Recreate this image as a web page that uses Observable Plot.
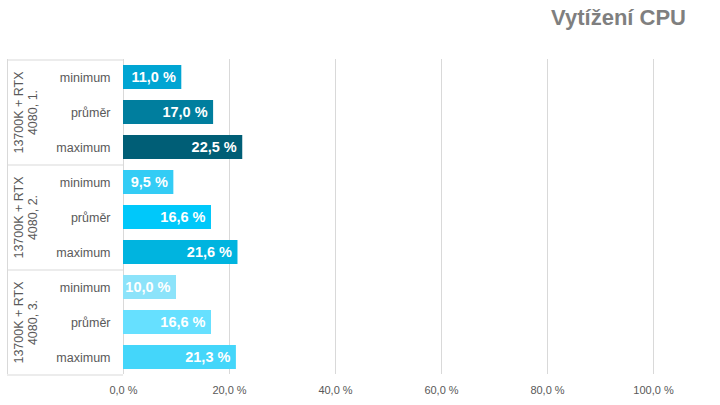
<!DOCTYPE html>
<html><head><meta charset="utf-8">
<script src="https://cdn.jsdelivr.net/npm/d3@7"></script>
<script src="https://cdn.jsdelivr.net/npm/@observablehq/plot@0.6"></script>
<style>
body{margin:0;background:#fff;font-family:"Liberation Sans",Arial,sans-serif;}
#wrap{position:relative;width:720px;height:405px;}
#title{position:absolute;right:34px;top:5px;font-size:22px;font-weight:bold;color:#7f7f7f;}
</style></head>
<body><div id="wrap"><div id="title">Vytížení CPU</div></div>
<script>
const groups = ["13700K + RTX\n4080, 1.", "13700K + RTX\n4080, 2.", "13700K + RTX\n4080, 3."];
const stats = ["minimum", "průměr", "maximum"];
const values = [
  [11.0, 17.0, 22.5],
  [9.5, 16.6, 21.6],
  [10.0, 16.6, 21.3]
];
const colors = ["#00A5D3", "#007E9E", "#005E76", "#33CCF5", "#00C8FA", "#00B4DF", "#8CE3FA", "#66E0FF", "#44D6FA"];
const xTicks = [0, 20, 40, 60, 80, 100];

const rows = [];
groups.forEach((g, gi) => stats.forEach((s, si) => rows.push({key: gi + "|" + s, group: g, stat: s, gi, si, value: values[gi][si]})));
const keys = rows.map(d => d.key);
const fmt = v => d3.format(".1f")(v).replace(".", ",") + " %";
const leftEdge = (7 - 123) / 5.3;

const chart = Plot.plot({
  width: 720, height: 405,
  marginLeft: 123, marginRight: 67, marginTop: 59, marginBottom: 31,
  style: {fontFamily: "'Liberation Sans', Arial, sans-serif", background: "transparent"},
  x: {domain: [0, 100], ticks: xTicks, tickFormat: fmt, tickSize: 0, tickPadding: 12, label: null},
  y: {domain: keys, paddingInner: 0.32, paddingOuter: 0.16, axis: null},
  color: {domain: keys, range: colors},
  marks: [
    Plot.ruleX(xTicks.slice(1), {stroke: "#d9d9d9", strokeWidth: 1}),
    Plot.ruleX([0, leftEdge], {stroke: "#d9d9d9", strokeWidth: 1, clip: false}),
    Plot.ruleY(rows.filter(d => d.si === 0), {y: "key", x1: leftEdge, x2: 0, dy: -17.5, stroke: "#d9d9d9", clip: false}),
    Plot.ruleY(rows.filter(d => d.si === 2 && d.gi === 2), {y: "key", x1: leftEdge, x2: 0, dy: 17.5, stroke: "#d9d9d9", clip: false}),
    Plot.barX(rows, {y: "key", x: "value", fill: "key"}),
    Plot.text(rows, {y: "key", x: "value", text: d => fmt(d.value), dx: -6, textAnchor: "end", fill: "white", fontWeight: "bold", fontSize: 14.5}),
    Plot.text(rows, {y: "key", x: 0, text: "stat", dx: -13, textAnchor: "end", fill: "#595959", fontSize: 12.5}),
    Plot.text(rows.filter(d => d.si === 1), {y: "key", x: 0, text: "group", dx: -98, rotate: -90, fill: "#595959", fontSize: 12.5, lineHeight: 1.15}),
    Plot.axisX({ticks: xTicks, tickFormat: fmt, tickSize: 0, tickPadding: 12, fill: "#595959", fontSize: 11, label: null})
  ]
});
document.getElementById("wrap").prepend(chart);
</script></body></html>
